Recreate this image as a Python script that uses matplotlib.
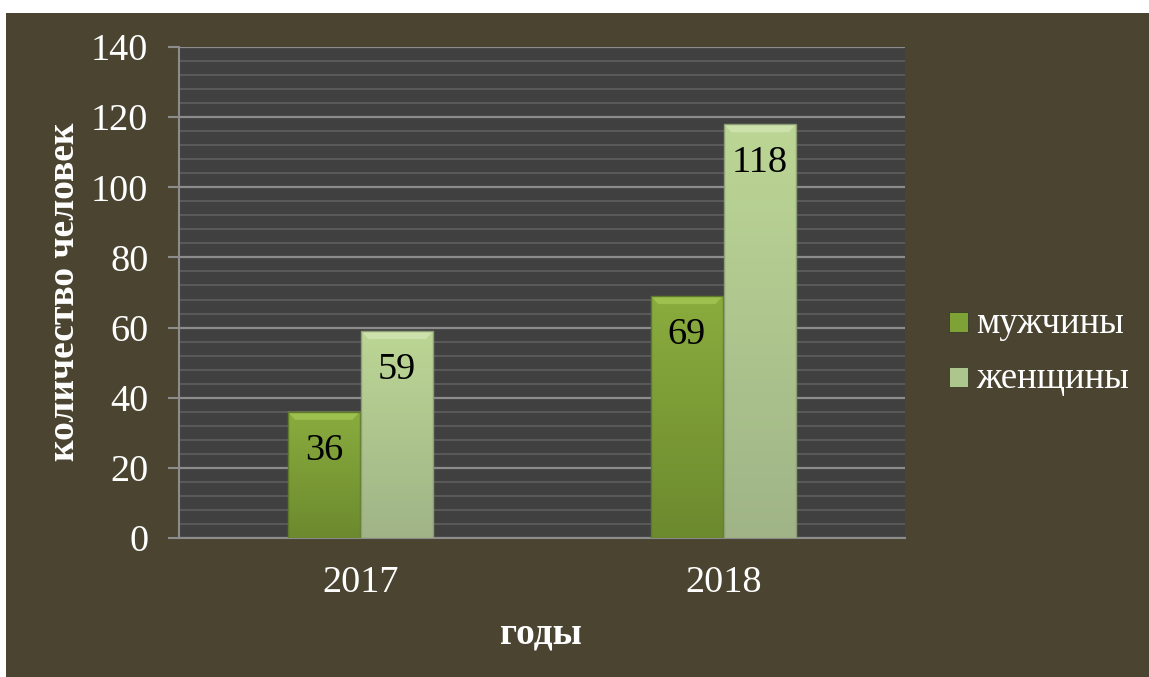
import numpy as np
import matplotlib
matplotlib.use("Agg")
import matplotlib.pyplot as plt
from matplotlib.patches import Rectangle, Polygon
from matplotlib.colors import LinearSegmentedColormap

years = ["2017", "2018"]
series_names = ["мужчины", "женщины"]
men = [36, 69]
women = [59, 118]

plt.rcParams['font.family'] = ['Liberation Serif', 'DejaVu Serif']

W, H = 1149, 677
fig = plt.figure(figsize=(W/100, H/100), dpi=100, facecolor='white')
olive = '#4a4430'
fig.patches.append(Rectangle((6/W, 0), 1 - 6/W, 1 - 13/H, transform=fig.transFigure,
                             facecolor=olive, edgecolor='none', zorder=-10))

ax = fig.add_axes([179/W, (H-538)/H, (905-179)/W, (538-47)/H])
ax.set_facecolor('#404040')
ax.set_ylim(0, 140)
ax.set_xlim(-0.5, 1.5)

# gridlines
ax.set_yticks(np.arange(0, 141, 20))
ax.set_yticks(np.arange(0, 141, 4), minor=True)
ax.yaxis.grid(True, which='minor', color='#5c5c5c', linewidth=1.3)
ax.yaxis.grid(True, which='major', color='#8c8c8c', linewidth=1.6)
ax.set_axisbelow(True)
ax.tick_params(axis='y', which='minor', length=0)
ax.tick_params(axis='y', which='major', length=8, width=1.5, color='#8c8c8c',
               labelsize=27.5, labelcolor='white', pad=14)
ax.tick_params(axis='x', length=0, labelsize=27.5, labelcolor='white', pad=20)
for s in ['top', 'right']:
    ax.spines[s].set_visible(False)
for s in ['left', 'bottom']:
    ax.spines[s].set_color('#8c8c8c')
    ax.spines[s].set_linewidth(1.5)

x = np.arange(len(years))
bw = 0.198
gap = 0.004

cm_men = LinearSegmentedColormap.from_list('m', ['#6c8a2e', '#8aac3e'])
cm_wom = LinearSegmentedColormap.from_list('w', ['#a0b487', '#bcd695'])
top_men = '#a2c452'
top_wom = '#d0e4b0'

def draw(xs, vals, cmap, topc, edge):
    bars = ax.bar(xs, vals, width=bw, color='none', edgecolor='none', zorder=3)
    grad = np.linspace(0, 1, 256).reshape(-1, 1)
    for b in bars:
        x0, y0, w, h = b.get_x(), b.get_y(), b.get_width(), b.get_height()
        im = ax.imshow(grad, cmap=cmap, origin='lower', aspect='auto',
                       extent=[x0, x0 + w, y0, y0 + h], zorder=3)
        im.set_clip_path(b)
        # bevel on top
        dy = 2.3
        dx = 0.02
        poly = Polygon([[x0, y0 + h], [x0 + w, y0 + h], [x0 + w - dx, y0 + h - dy],
                        [x0 + dx, y0 + h - dy]], closed=True, facecolor=topc,
                       edgecolor='none', alpha=0.85, zorder=4)
        ax.add_patch(poly)
        ax.add_patch(Rectangle((x0, y0), w, h, facecolor='none', edgecolor=edge,
                               linewidth=1.0, zorder=5))
    return bars

bm = draw(x - bw/2 - gap/2, men, cm_men, top_men, '#5f7a28')
bwm = draw(x + bw/2 + gap/2, women, cm_wom, top_wom, '#8d9e76')
ax.set_xlim(-0.5, 1.5)
ax.set_ylim(0, 140)

for xs, vals in [(x - bw/2 - gap/2, men), (x + bw/2 + gap/2, women)]:
    for xi, v in zip(xs, vals):
        ax.annotate(str(v), (xi, v), xytext=(0, -28), textcoords='offset points',
                    ha='center', va='center', fontsize=27.5, color='black', zorder=6)

ax.set_xticks(x)
ax.set_xticklabels(years)

fig.text(65/W, 1 - 292/H, 'количество человек', rotation=90, ha='center', va='center',
         fontsize=27, fontweight='bold', color='white')
fig.text(541/W, 1 - 634/H, 'годы', ha='center', va='center',
         fontsize=27, fontweight='bold', color='white')

# legend
for i, (name, c, tc) in enumerate([(series_names[0], '#7fa236', top_men),
                                   (series_names[1], '#adc68e', top_wom)]):
    yc = 1 - (322 + 55*i)/H
    fig.patches.append(Rectangle((949/W, yc - 10/H), 19/W, 20/H, transform=fig.transFigure,
                                 facecolor=c, edgecolor='#3a3a2a', linewidth=0.6, zorder=5))
    fig.text(976/W, yc - 2/H, name, ha='left', va='center', fontsize=26.5, color='white')

fig.savefig('out.png', dpi=100, facecolor='white')
